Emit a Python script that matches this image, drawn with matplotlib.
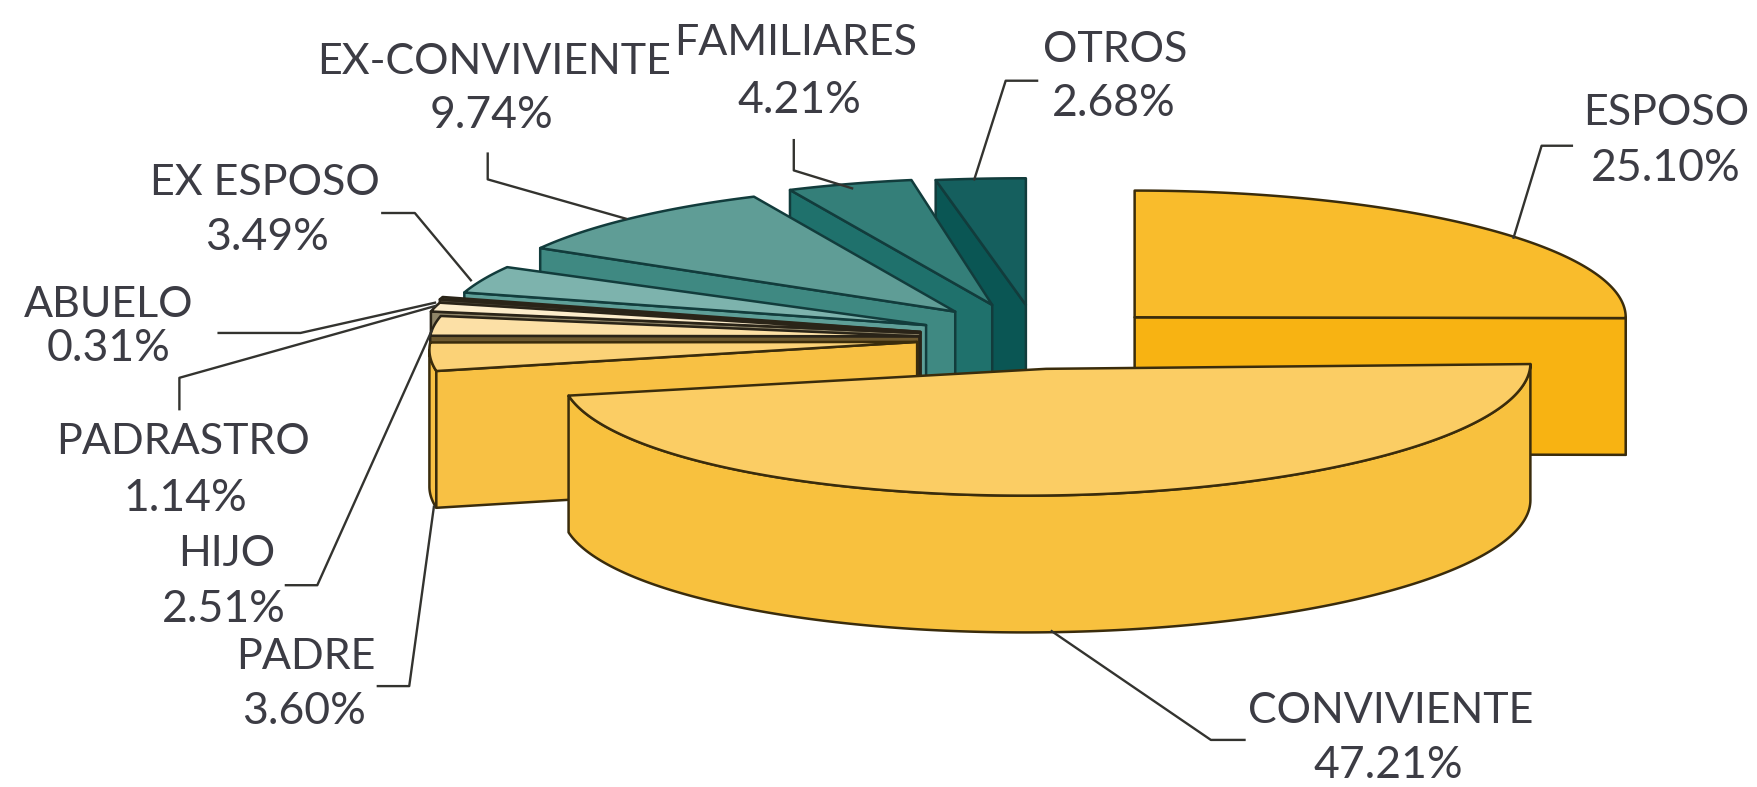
import numpy as np
import matplotlib
matplotlib.use("Agg")
import matplotlib.pyplot as plt

plt.rcParams['font.family'] = ['Lato', 'DejaVu Sans']

# clockwise from 12 o'clock
categories = ["ESPOSO", "CONVIVIENTE", "PADRE", "HIJO", "PADRASTRO", "ABUELO",
              "EX ESPOSO", "EX-CONVIVIENTE", "FAMILIARES", "OTROS"]
shares = [25.10, 47.21, 3.60, 2.51, 1.14, 0.31, 3.49, 9.74, 4.21, 2.68]

top_colors = ["#F9BC2C", "#FBCD64", "#FBD277", "#FCE0A6", "#FDEDCB", "#FEF6E4",
              "#7DB3AD", "#5F9D96", "#347F79", "#155F5E"]
wall_colors = ["#F8B312", "#F8C13E", "#F8C144", "#6E5A30", "#8F8568", "#4A4436",
               "#5E9F98", "#3F8982", "#1F716C", "#0A5654"]
edge_colors = ["#3A2C0C"] * 3 + ["#2A2418"] * 3 + ["#123C3C"] * 4

# exploded position of each slice, in picture pixels
centers = [(1012, 283), (933, 329), (818, 305), (820, 300), (821, 297), (821, 296),
           (826, 290), (852, 278), (885, 272), (915, 272)]
radii = [438, 432, 435, 437, 447, 447, 432, 428, 430, 480]
rim_drop = [0, 0, 7, 6, 5, 3, 5, 0, 0, 0]
tilt = [0, 5, 0, 0, 0, 0, 0, 0, 0, 0]
RY, DEPTH = 113, 122

# order the slices are painted, back to front
paint_order = [9, 8, 7, 6, 5, 4, 3, 2, 0, 1]

labels = {
    "ESPOSO": ((1486, 101), (1486, 150)),
    "OTROS": ((995, 45), (993, 92)),
    "FAMILIARES": ((710, 38), (713, 90)),
    "EX-CONVIVIENTE": ((441, 55), (438, 103)),
    "EX ESPOSO": ((236, 163), (238, 212)),
    "ABUELO": ((97, 272), (97, 311)),
    "PADRASTRO": ((163, 394), (165, 445)),
    "HIJO": ((202, 494), (200, 544)),
    "PADRE": ((273, 586), (271, 635)),
    "CONVIVIENTE": ((1240, 634), (1238, 683)),
}
leaders = [
    [(1402, 130), (1375, 130), (1350, 212)],
    [(925, 72), (897, 72), (869, 160)],
    [(708, 125), (708, 152), (760, 168)],
    [(435, 137), (435, 160), (558, 195)],
    [(341, 190), (370, 190), (420, 250)],
    [(195, 297), (268, 297), (388, 270)],
    [(160, 365), (160, 337), (388, 273)],
    [(255, 522), (283, 522), (385, 295)],
    [(337, 612), (365, 612), (387, 452)],
    [(1110, 660), (1080, 660), (938, 563)],
]


def rim(i, theta):
  cx, cy = centers[i]
  s = np.sin(theta)
  return cx + radii[i] * s, cy + rim_drop[i] - RY * np.cos(theta) - tilt[i] * s


def draw_slice(ax, i, start, end):
  cx, cy = centers[i]
  kw = dict(edgecolor=edge_colors[i], linewidth=1.8, joinstyle='round')

  # outer wall, only the part on the near side
  a = max(start, np.pi / 2)
  b = min(end, 3 * np.pi / 2)
  if b > a:
    t = np.linspace(a, b, 200)
    x, y = rim(i, t)
    ax.fill(np.r_[x, x[::-1]], np.r_[y, y[::-1] + DEPTH], facecolor=wall_colors[i], **kw)

  # cut faces that look towards the viewer
  for theta, show in ((start, np.pi < start < 2 * np.pi), (end, 0 < end < np.pi)):
    if show:
      x, y = rim(i, theta)
      ax.fill([cx, x, x, cx], [cy, y, y + DEPTH, cy + DEPTH], facecolor=wall_colors[i], **kw)

  t = np.linspace(start, end, 200)
  x, y = rim(i, t)
  ax.fill(np.r_[cx, x], np.r_[cy, y], facecolor=top_colors[i], **kw)


def run():
  fig = plt.figure(figsize=(17.58, 7.87), dpi=100)
  ax = fig.add_axes([0, 0, 1, 1])
  ax.set_xlim(0, 1568)
  ax.set_ylim(702, 0)
  ax.axis('off')

  bounds = np.r_[0, np.cumsum(shares)] / np.sum(shares) * 2 * np.pi
  for i in paint_order:
    draw_slice(ax, i, bounds[i], bounds[i + 1])

  for pts in leaders:
    xs, ys = zip(*pts)
    ax.plot(xs, ys, color='#33332f', linewidth=1.7)

  for name, share in zip(categories, shares):
    name_pos, share_pos = labels[name]
    ax.text(*name_pos, name, ha='center', va='center', fontsize=31, color='#3C3C44')
    ax.text(*share_pos, f"{share:.2f}%", ha='center', va='center', fontsize=32, color='#3C3C44')

  fig.savefig("out.png", dpi=100)


if __name__ == '__main__':
  run()
